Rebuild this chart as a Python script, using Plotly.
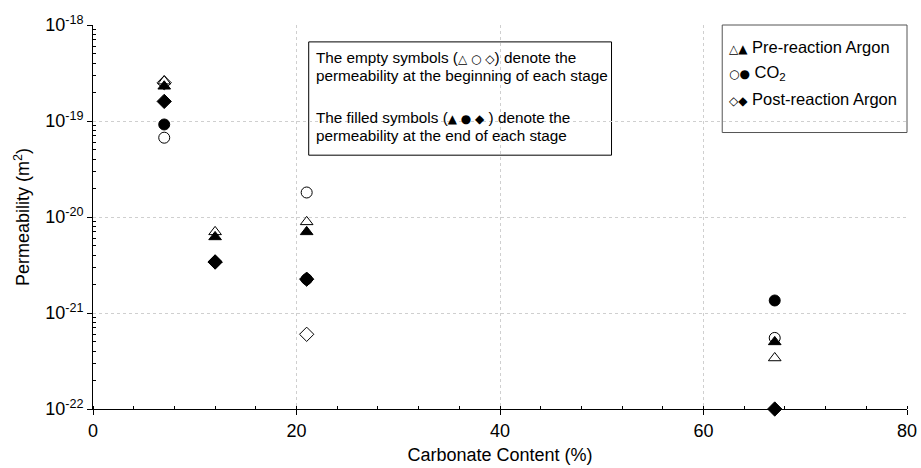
import plotly.graph_objects as go

# Carbonate content of each sample (%)
carbonate = [7, 12, 21, 67]

# Permeability (m^2) at the beginning (open) and end (filled) of each stage
pre_ar_start = [2.6e-19, 7.0e-21, 8.9e-21, 3.4e-22]
pre_ar_end = [2.3e-19, 6.2e-21, 7.0e-21, 5.0e-22]
co2_start = [6.7e-20, None, 1.8e-20, 5.5e-22]
co2_end = [9.2e-20, None, 2.25e-21, 1.35e-21]
post_ar_start = [2.5e-19, 3.4e-21, 6.0e-22, None]
post_ar_end = [1.6e-19, 3.4e-21, 2.25e-21, 1.0e-22]

y_tickvals = [1e-22, 1e-21, 1e-20, 1e-19, 1e-18]
y_ticktext = ["10<sup>-22</sup>", "10<sup>-21</sup>", "10<sup>-20</sup>",
              "10<sup>-19</sup>", "10<sup>-18</sup>"]
x_tickvals = [0, 20, 40, 60, 80]

# minor log ticks at 2..9 within each decade
y_minor = [m * 10.0 ** e for e in range(-22, -18) for m in range(2, 10)]

FONT = "Liberation Sans, Arial, DejaVu Sans, sans-serif"


def glyphs(chars, size):
    """Small inline marker glyphs used inside the legend and note texts."""
    return ('<span style="font-family:DejaVu Sans;font-size:%dpx">%s</span>'
            % (size, chars))


fig = go.Figure()

series = [
    (pre_ar_start, "triangle-up-open"),
    (co2_start, "circle-open"),
    (post_ar_start, "diamond-open"),
    (pre_ar_end, "triangle-up"),
    (co2_end, "circle"),
    (post_ar_end, "diamond"),
]
for values, symbol in series:
    fig.add_trace(go.Scatter(
        x=carbonate, y=values, mode="markers", cliponaxis=False,
        marker=dict(symbol=symbol, size=11, color="black",
                    line=dict(color="black", width=1)),
        showlegend=False, hoverinfo="x+y",
    ))

# Legend box (top right)
fig.add_shape(type="rect", xref="paper", yref="paper",
              x0=0.773, x1=1.0, y0=0.72, y1=1.0,
              line=dict(color="#555555", width=1), fillcolor="rgba(0,0,0,0)")
legend_rows = [(glyphs("△▲", 12) + " Pre-reaction Argon", 0.943),
               (glyphs("○●", 12) + " CO<sub>2</sub>", 0.875),
               (glyphs("◇◆", 12) + " Post-reaction Argon", 0.807)]
for txt, yy in legend_rows:
    fig.add_annotation(xref="paper", yref="paper", x=0.779, y=yy,
                       xanchor="left", yanchor="middle", showarrow=False,
                       text=txt, font=dict(family=FONT, size=16.5, color="black"))

# Note box
fig.add_shape(type="rect", xref="paper", yref="paper",
              x0=0.265, x1=0.637, y0=0.661, y1=0.956,
              line=dict(color="black", width=1), fillcolor="white", layer="below")
notes = [("The empty symbols (" + glyphs("△ ○ ◇", 12) + ") denote the", 0.916),
         ("permeability at the beginning of each stage", 0.868),
         ("The filled symbols (" + glyphs("▲ ● ◆", 12) + " ) denote the", 0.758),
         ("permeability at the end of each stage", 0.711)]
for txt, yy in notes:
    fig.add_annotation(xref="paper", yref="paper", x=0.271, y=yy,
                       xanchor="left", yanchor="middle", showarrow=False,
                       text=txt, font=dict(family=FONT, size=15.3, color="black"))

fig.update_layout(
    width=921, height=468,
    margin=dict(l=93, r=14, t=25, b=59),
    paper_bgcolor="white", plot_bgcolor="white",
    font=dict(family=FONT, size=18, color="black"),
    xaxis=dict(
        range=[0, 80], tickvals=x_tickvals, ticktext=[str(v) for v in x_tickvals],
        showline=True, linecolor="black", linewidth=1,
        ticks="outside", ticklen=5, tickcolor="black",
        minor=dict(ticks="inside", ticklen=3, dtick=4, tickcolor="black", showgrid=False),
        showgrid=True, gridcolor="#cfcfcf", griddash="dot", gridwidth=1,
        zeroline=False, automargin=False,
        title=dict(text="Carbonate Content (%)", font=dict(size=18), standoff=8),
        tickfont=dict(size=18),
    ),
    yaxis=dict(
        type="log", range=[-22, -18], tickvals=y_tickvals, ticktext=y_ticktext,
        showline=True, linecolor="black", linewidth=1,
        ticks="outside", ticklen=5, tickcolor="black",
        minor=dict(ticks="inside", ticklen=3, tickvals=y_minor,
                   tickcolor="black", showgrid=False),
        showgrid=True, gridcolor="#cfcfcf", griddash="dot", gridwidth=1,
        zeroline=False, automargin=False,
        title=dict(text="Permeability (m<sup>2</sup>)", font=dict(size=18), standoff=10),
        tickfont=dict(size=18),
    ),
)

fig.write_html("out.html")
